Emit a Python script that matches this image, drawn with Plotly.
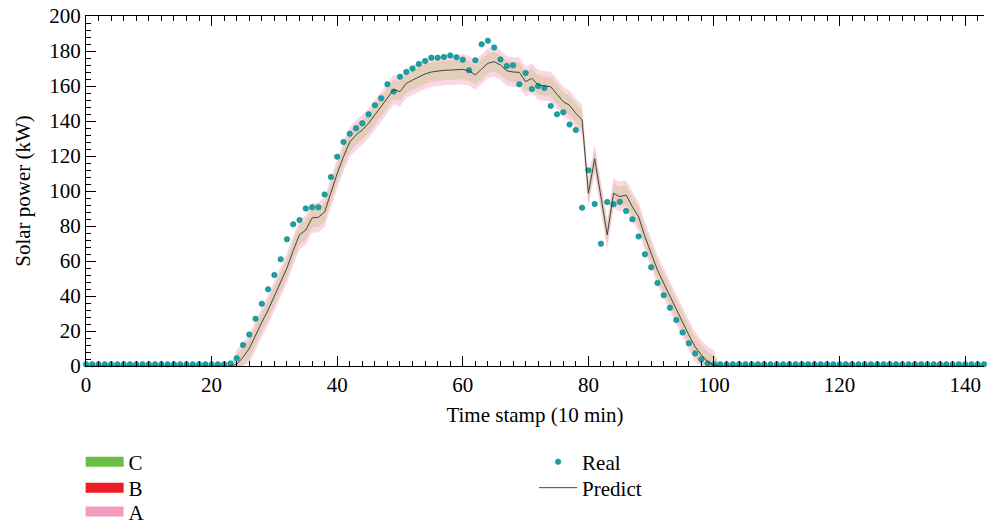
import plotly.graph_objects as go

# ---------------- data ----------------
time_stamp = list(range(144))

real = ([1.0] * 23 + [1.5,
        4.4, 12, 18, 27, 35.6, 43.8, 52, 61, 72.4, 81,
        83.4, 90, 90.7, 90.7, 98, 108, 119.6, 128, 132.7, 135.8,
        138.7, 143.8, 149, 153, 161, 156.8, 165.3, 168, 170, 172.6,
        174.3, 176.2, 176.2, 176.6, 177.5, 176.4, 175, 169, 174.7, 183.8,
        185.9, 182, 175.2, 171.4, 171.8, 161, 167.4, 158.3, 160, 158.9,
        148.6, 143.8, 145, 138, 134.9, 90.5, 111.8, 92.6, 69.9, 93.7,
        92.4, 93.9, 88.6, 83.8, 74, 63.8, 56.4, 47.4, 40.4, 33.3,
        26.3, 19.2, 13, 7.2, 3.8, 1.5] + [1.0] * 44)

predict = ([0.0] * 24 + [
        1, 5, 10, 18, 25, 32, 40, 47, 56, 66,
        75, 77.7, 84.6, 85, 88, 99, 110, 119.6, 128, 132,
        134.9, 138.7, 143.4, 148, 153, 158, 156.8, 161.5, 163.4, 165.3,
        166.9, 168, 168.6, 169, 169.1, 169.5, 169.5, 168.7, 166.3, 169.7,
        173, 173.9, 172, 168.7, 168, 167.8, 162.5, 164.4, 160.6, 160,
        159.6, 155.3, 151, 149, 144.4, 140.6, 98.7, 118.5, 96.5, 74.9,
        98.7, 96.8, 97.7, 91, 85.3, 74, 64.4, 54.9, 47.2, 39.6,
        32, 25.3, 17.7, 11, 6.3, 2.5, 0.5] + [0.0] * 43)

# interval half-widths (kW) of the three bands
band_names = ["C", "B", "A"]
band_half_width = {"A": 8.5, "B": 6.0, "C": 5.5}
band_colors = {"C": "#6cbd45", "B": "#ec1c24", "A": "#f49ac1"}
band_fills = {"C": "rgba(108,189,69,0.16)", "B": "rgba(236,28,36,0.20)",
              "A": "rgba(244,154,193,0.40)"}

x_ticks = [0, 20, 40, 60, 80, 100, 120, 140]
y_ticks = [0, 20, 40, 60, 80, 100, 120, 140, 160, 180, 200]


def bound(w, sign):
    out = []
    for p in predict:
        if p <= 0:
            out.append(0.0)
        else:
            out.append(max(p + sign * w, 0.0))
    return out


FONT = "Liberation Serif"
FS = 21
fig = go.Figure()

# A: outer pink fringe (between A and B limits)
for lo, hi in [(bound(band_half_width["A"], -1), bound(band_half_width["B"], -1)),
               (bound(band_half_width["B"], 1), bound(band_half_width["A"], 1))]:
    fig.add_trace(go.Scatter(x=time_stamp, y=lo, mode="lines", line=dict(width=0),
                             showlegend=False, hoverinfo="skip"))
    fig.add_trace(go.Scatter(x=time_stamp, y=hi, mode="lines", line=dict(width=0),
                             fill="tonexty", fillcolor=band_fills["A"],
                             showlegend=False, hoverinfo="skip"))

for nm in ["B", "C"]:
    w = band_half_width[nm]
    fig.add_trace(go.Scatter(x=time_stamp, y=bound(w, -1), mode="lines", line=dict(width=0),
                             showlegend=False, hoverinfo="skip"))
    fig.add_trace(go.Scatter(x=time_stamp, y=bound(w, 1), mode="lines", line=dict(width=0),
                             fill="tonexty", fillcolor=band_fills[nm],
                             showlegend=False, hoverinfo="skip"))

# real points
fig.add_trace(go.Scatter(x=time_stamp, y=real, mode="markers",
                         marker=dict(color="#17a3a3", size=5.5,
                                     line=dict(color="#0d7f80", width=0.5)),
                         name="Real", cliponaxis=False, legend="legend4"))
# predicted line
fig.add_trace(go.Scatter(x=time_stamp, y=predict, mode="lines",
                         line=dict(color="#333333", width=0.9), name="Predict",
                         legend="legend5"))

# legend entries for the bands
for i, nm in enumerate(band_names):
    fig.add_trace(go.Scatter(x=[None], y=[None], mode="lines",
                             line=dict(color=band_colors[nm], width=10),
                             name=nm, legend=["legend", "legend2", "legend3"][i]))

axis_common = dict(showline=True, linecolor="black", linewidth=1.3,
                   ticks="inside", tickcolor="black", tickwidth=1.2, ticklen=10,
                   showgrid=False, zeroline=False,
                   tickfont=dict(family=FONT, size=FS, color="black"))


def leg(x, y):
    return dict(x=x, y=y, xanchor="left", yanchor="top", bgcolor="rgba(0,0,0,0)",
                font=dict(family=FONT, size=FS), tracegroupgap=0, itemwidth=38)


fig.update_layout(
    width=987, height=525,
    margin=dict(l=86, r=3, t=16, b=159, autoexpand=False),
    plot_bgcolor="white", paper_bgcolor="white",
    font=dict(family=FONT, size=FS, color="black"),
    xaxis=dict(range=[0, 143], tickvals=x_ticks, mirror="ticks",
               minor=dict(dtick=2, ticks="inside", ticklen=5, tickcolor="black", tickwidth=1),
               title=dict(text="Time stamp (10 min)", font=dict(family=FONT, size=FS), standoff=10),
               **axis_common),
    yaxis=dict(range=[0, 200], tickvals=y_ticks,
               minor=dict(dtick=4, ticks="inside", ticklen=5, tickcolor="black", tickwidth=1),
               title=dict(text="Solar power (kW)", font=dict(family=FONT, size=FS), standoff=12),
               **axis_common),
    yaxis2=dict(range=[0, 200], overlaying="y", side="right", tickvals=y_ticks,
                showticklabels=False, showline=True, linecolor="#cccccc", linewidth=1,
                ticks="inside", tickcolor="black", ticklen=8, showgrid=False, zeroline=False),
    legend=leg(-0.006, -0.216),
    legend2=leg(-0.006, -0.290),
    legend3=leg(-0.006, -0.358),
    legend4=leg(0.499, -0.216),
    legend5=leg(0.499, -0.290),
)

fig.write_html("out.html")
